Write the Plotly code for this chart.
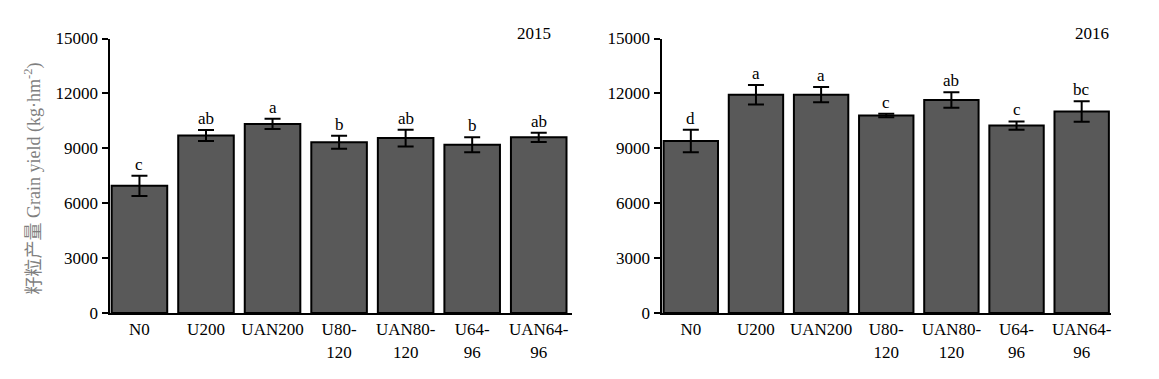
import plotly.graph_objects as go

categories = ["N0", "U200", "UAN200", "U80-<br>120", "UAN80-<br>120", "U64-<br>96", "UAN64-<br>96"]
yield_2015 = [6950, 9700, 10330, 9330, 9560, 9200, 9600]
err_2015 = [550, 300, 280, 350, 460, 410, 250]
letters_2015 = ["c", "ab", "a", "b", "ab", "b", "ab"]
yield_2016 = [9400, 11930, 11930, 10790, 11640, 10240, 11010]
err_2016 = [620, 530, 420, 100, 420, 230, 560]
letters_2016 = ["d", "a", "a", "c", "ab", "c", "bc"]
y_ticks = [0, 3000, 6000, 9000, 12000, 15000]

FONT = "Liberation Serif, Times New Roman, serif"
FS = 17
BAR_COLOR = "#595959"
W, H = 1159, 379

fig = go.Figure()
for vals, errs, xa, ya in [(yield_2015, err_2015, "x", "y"), (yield_2016, err_2016, "x2", "y2")]:
    fig.add_trace(go.Bar(
        x=list(range(len(categories))), y=vals, xaxis=xa, yaxis=ya,
        marker=dict(color=BAR_COLOR, line=dict(color="black", width=2)),
        error_y=dict(type="data", array=errs, color="black", thickness=2, width=8),
        showlegend=False, hoverinfo="skip",
    ))

annotations = []
for vals, errs, letters, xa, ya in [(yield_2015, err_2015, letters_2015, "x", "y"),
                                    (yield_2016, err_2016, letters_2016, "x2", "y2")]:
    for i, (v, e, l) in enumerate(zip(vals, errs, letters)):
        annotations.append(dict(x=i, y=v + e, xref=xa, yref=ya, text=l, showarrow=False,
                                yanchor="bottom", yshift=0,
                                font=dict(family=FONT, size=FS, color="black")))

annotations.append(dict(x=553 / W, y=1 - 33.5 / H, xref="paper", yref="paper", text="2015", showarrow=False,
                        font=dict(family=FONT, size=FS, color="black"), xanchor="right", yanchor="middle"))
annotations.append(dict(x=1111 / W, y=1 - 33.5 / H, xref="paper", yref="paper", text="2016", showarrow=False,
                        font=dict(family=FONT, size=FS, color="black"), xanchor="right", yanchor="middle"))
annotations.append(dict(x=33.5 / W, y=1 - 179 / H, xref="paper", yref="paper",
                        text="籽粒产量 Grain yield (kg·hm<sup>-2</sup>)",
                        showarrow=False, textangle=-90,
                        font=dict(family=FONT + ", Noto Sans CJK SC", size=18, color="#7f7f7f"),
                        xanchor="center", yanchor="middle"))

def xaxis_cfg(dom, rng):
    return dict(domain=dom, range=rng, showline=True, linecolor="black", linewidth=2, ticks="",
                showgrid=False, zeroline=False, tickmode="array",
                tickvals=list(range(len(categories))), ticktext=categories,
                tickfont=dict(family=FONT, size=FS, color="black"), fixedrange=True, automargin=False)

def yaxis_cfg(anchor):
    return dict(domain=[66 / H, 1 - 38.5 / H], anchor=anchor, showline=True, linecolor="black",
                linewidth=2, ticks="outside", ticklen=6, tickwidth=2, tickcolor="black",
                showgrid=False, zeroline=False, range=[0, 15000], tickmode="array",
                tickvals=y_ticks, ticktext=[str(t) for t in y_ticks],
                tickfont=dict(family=FONT, size=FS, color="black"), fixedrange=True, automargin=False)

fig.update_layout(
    width=W, height=H,
    margin=dict(l=0, r=0, t=0, b=0, pad=0, autoexpand=False),
    paper_bgcolor="white", plot_bgcolor="white",
    bargap=0.165,
    xaxis=dict(anchor="y", **xaxis_cfg([109.5 / W, 572 / W], [-0.45, 6.5])),
    yaxis=yaxis_cfg("x"),
    xaxis2=dict(anchor="y2", **xaxis_cfg([661.5 / W, 1111 / W], [-0.45, 6.45])),
    yaxis2=yaxis_cfg("x2"),
    annotations=annotations,
)

fig.write_html("out.html", config={"displayModeBar": False},
               post_script="document.body.style.margin='0';")
